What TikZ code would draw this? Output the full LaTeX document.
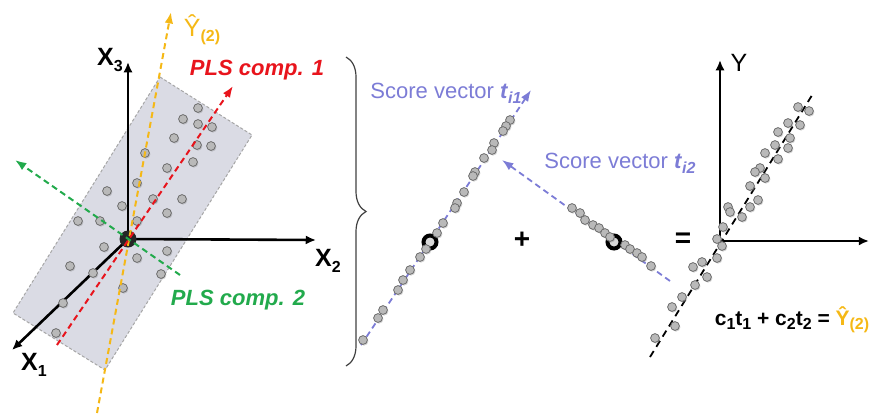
\documentclass[tikz,border=0pt]{standalone}
\usepackage{fontspec}
\setmainfont{Liberation Sans}
\usetikzlibrary{arrows.meta,decorations.pathreplacing,shadows}
\definecolor{amarillo}{RGB}{245,184,22}
\definecolor{rojo}{RGB}{232,20,28}
\definecolor{verde}{RGB}{34,170,76}
\definecolor{violeta}{RGB}{124,124,214}
\definecolor{plano}{RGB}{218,219,228}
\newcommand{\indsub}[1]{\raisebox{-0.4ex}{\fontsize{8}{8}\selectfont #1}}

\begin{document}
\begin{tikzpicture}[x=0.5pt,y=-0.5pt,line width=1pt,>={Latex[length=2mm]},
  eje/.style={->,line width=1.3pt,>={Latex[length=1.8mm,width=1.6mm]}},
  raya/.style={dash pattern=on 3pt off 2pt,line width=1pt},
  punto/.style={circle,fill=gray!55,draw=gray!85!black,line width=0.4pt,inner sep=0pt,minimum size=4.4pt,
    drop shadow={shadow xshift=0.5pt,shadow yshift=-0.6pt,opacity=0.35}},
  anillo/.style={circle,draw=black,line width=2pt,fill=gray!30,inner sep=0pt,minimum size=6.5pt},
  ejetxt/.style={font=\fontsize{12.5}{14}\selectfont\bfseries},
  plstxt/.style={font=\fontsize{11}{13}\selectfont\bfseries\itshape},
  scoretxt/.style={font=\fontsize{11}{13}\selectfont,text=violeta}]
  \useasboundingbox (0,0) rectangle (872,414);
  % plano de las componentes
  \fill[plano] (160,77) -- (252,135) -- (105,370) -- (13,313) -- cycle;
  \draw[gray!70,line width=0.5pt,dash pattern=on 1.5pt off 1pt] (160,77) -- (252,135) -- (105,370) -- (13,313) -- cycle;
  % ejes X1 X2 X3
  \coordinate (O) at (128,239);
  \coordinate (X3tip) at (128,62);
  \coordinate (X2tip) at (316,240);
  \coordinate (X1tip) at (12,350);
  \draw[eje] (O) -- (X3tip);
  \draw[eje] (O) -- (X2tip);
  \draw[eje] (O) -- (X1tip);
  \node[ejetxt] (x3) at (110,60) {X\indsub{\bfseries 3}};
  \node[ejetxt] (x2) at (328,261) {X\indsub{\bfseries 2}};
  \node[ejetxt] (x1) at (34,365) {X\indsub{\bfseries 1}};
  \fill[black!85] (O) circle (8.5);
  % observaciones
  \foreach \x/\y in {198/108,183/119,198/124,212/127,174/138,197/145,211/146,145/153,193/162,167/168,
      137/183,107/191,153/199,182/199,122/206,167/213,78/221,100/221,137/221,104/247,167/251,137/258,
      70/266,93/273,161/274,123/288,63/303,56/333}
    \node[punto] at (\x,\y) {};
  % direcciones
  \coordinate (Ya) at (97,413);
  \coordinate (Yb) at (171,12);
  \coordinate (Ra) at (57,345);
  \coordinate (Rb) at (233,86);
  \coordinate (Ga) at (180,275);
  \coordinate (Gb) at (15,160);
  \draw[raya,amarillo,->] (Ya) -- (Yb);
  \draw[raya,rojo,->] (Ra) -- (Rb);
  \draw[raya,verde,->] (Ga) -- (Gb);
  \node[font=\fontsize{12.5}{14}\selectfont,text=amarillo] (yhat) at (202,30) {Ŷ\indsub{\bfseries (2)}};
  \node[plstxt,text=rojo] (pls1) at (257,70) {PLS comp. 1};
  \node[plstxt,text=verde] (pls2) at (238,300) {PLS comp. 2};
  % llave
  \draw[black!75,line width=0.6pt,decorate,decoration={brace,amplitude=10pt}] (346,57) -- (346,366);
  % score vector t1
  \coordinate (T1a) at (361,345);
  \coordinate (T1b) at (531,90);
  \draw[raya,violeta,line width=0.9pt,->] (T1a) -- (T1b);
  \node[anillo] (c1) at (430,242) {};
  \foreach \x/\y in {510/120,506/126,503/131,494/143,492/150,484/158,475/172,473/176,464/192,457/203,
      455/208,443/223,437/233,426/249,420/257,410/270,403/280,398/290,383/310,378/318,363/340}
    \node[punto] at (\x,\y) {};
  \node[scoretxt] (sc1) at (446,93) {Score vector \textbf{\textit{t}}\indsub{\bfseries\itshape i1}};
  \node[font=\fontsize{14}{14}\selectfont\bfseries] (mas) at (522,240) {+};
  % score vector t2
  \coordinate (T2a) at (670,281);
  \coordinate (T2b) at (502,160);
  \draw[raya,violeta,line width=0.9pt,->] (T2a) -- (T2b);
  \node[anillo] (c2) at (614,242) {};
  \foreach \x/\y in {572/208,580/213,585/220,593/225,599/228,605/233,610/237,625/245,630/249,637/253,642/257,651/266}
    \node[punto] at (\x,\y) {};
  \node[scoretxt] (sc2) at (620,163) {Score vector \textbf{\textit{t}}\indsub{\bfseries\itshape i2}};
  \node[font=\fontsize{14}{14}\selectfont\bfseries] (igual) at (683,240) {=};
  % prediccion de Y
  \coordinate (O2) at (720,241);
  \coordinate (Ytip) at (720,60);
  \coordinate (Xtip) at (869,241);
  \draw[eje] (O2) -- (Ytip);
  \draw[eje] (O2) -- (Xtip);
  \node[font=\fontsize{12.5}{14}\selectfont] (ylab) at (739,63) {Y};
  \coordinate (Fa) at (650,357);
  \coordinate (Fb) at (814,92);
  \draw[dash pattern=on 3.5pt off 2.5pt,line width=0.9pt] (Fa) -- (Fb);
  \foreach \x/\y in {798/107,809/111,788/123,800/125,778/132,790/138,775/145,788/148,765/153,778/159,
      760/168,755/172,765/178,750/186,758/200,750/207,728/207,730/212,742/217,723/227,717/239,722/246,
      717/258,702/262,693/267,707/277,695/285,682/297,672/307,675/326,655/338}
    \node[punto] at (\x,\y) {};
  \node[font=\fontsize{10.5}{12}\selectfont\bfseries] (eq) at (792,320)
    {c\indsub{\bfseries 1}t\indsub{\bfseries 1} + c\indsub{\bfseries 2}t\indsub{\bfseries 2} = {\color{amarillo}Ŷ\indsub{\bfseries (2)}}};
\end{tikzpicture}
\end{document}
